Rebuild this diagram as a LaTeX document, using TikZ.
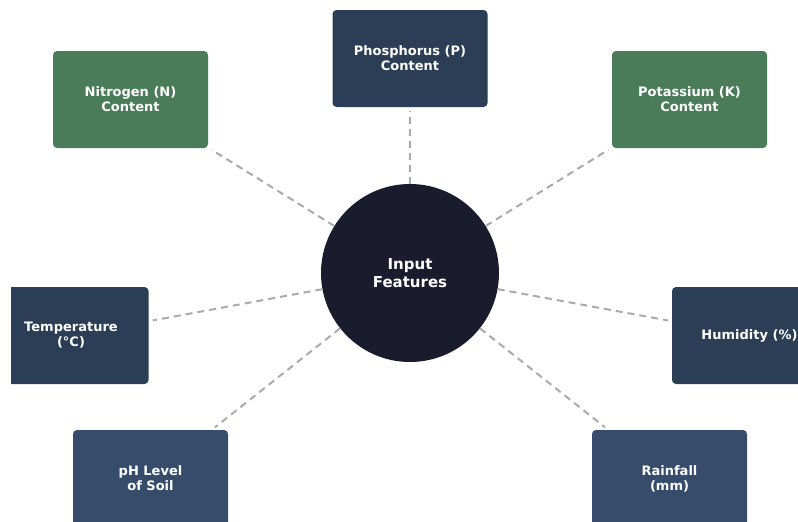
\documentclass[tikz,border=0pt]{standalone}
\usepackage{fontspec}
\setmainfont{DejaVu Sans}
\definecolor{leafgreen}{HTML}{4A7C59}
\definecolor{slatedark}{HTML}{2C3E55}
\definecolor{slatemid}{HTML}{364C6A}
\definecolor{hubnavy}{HTML}{1B1B2E}
\definecolor{linkgray}{HTML}{AAAAAA}
\tikzset{
  feat/.style={rectangle, rounded corners=4pt, minimum width=155pt, minimum height=97pt,
    text=white, align=center, font=\bfseries\fontsize{13}{15}\selectfont},
  hub/.style={circle, fill=hubnavy, minimum size=178pt, inner sep=0pt,
    text=white, align=center, font=\bfseries\fontsize{15}{18}\selectfont},
  link/.style={linkgray, line width=2pt, dash pattern=on 7pt off 5pt, shorten >=4pt},
}
\begin{document}
\begin{tikzpicture}[x=1pt, y=-1pt]
			\useasboundingbox (0,0) rectangle (798,522);
			\clip (11,0) rectangle (798,522);
			% centre
			\node[hub] (input) at (410,273) {Input\\Features};
			% soil nutrients
			\node[feat, fill=leafgreen] (nitro) at (130.5,99.5) {Nitrogen (N)\\Content};
			\node[feat, fill=slatedark] (phos) at (410,58.5) {Phosphorus (P)\\Content};
			\node[feat, fill=leafgreen] (potas) at (689.5,99.5) {Potassium (K)\\Content};
			% climate and soil
			\node[feat, fill=slatedark] (temp) at (71,335.5) {Temperature\\(°C)};
			\node[feat, fill=slatedark] (humid) at (749.5,335.5) {Humidity (\%)};
			\node[feat, fill=slatemid] (ph) at (150.5,478.5) {pH Level\\of Soil};
			\node[feat, fill=slatemid] (rain) at (669.5,478.5) {Rainfall\\(mm)};
			% links
			\foreach \f in {nitro, phos, potas, temp, humid, ph, rain}
			  \draw[link] (input) -- (\f);
			\end{tikzpicture}
\end{document}
